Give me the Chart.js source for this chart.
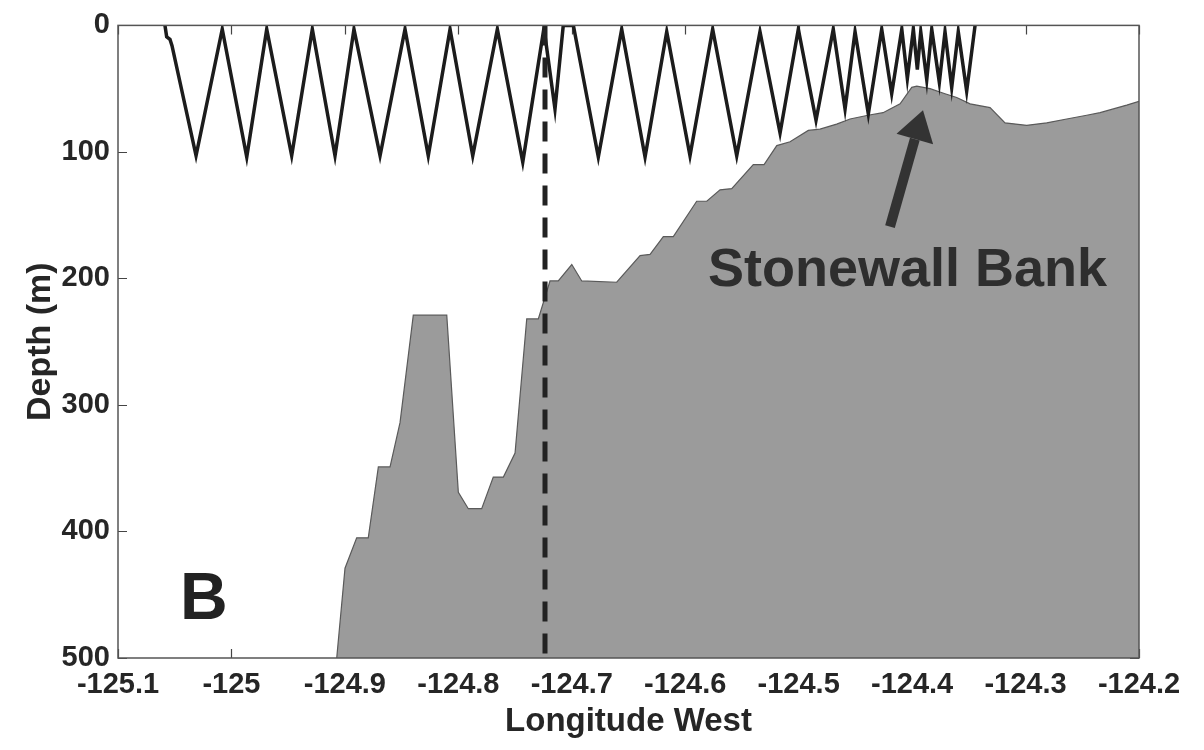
<!DOCTYPE html>
<html lang="en">
<head>
<meta charset="utf-8">
<title>Depth section across Stonewall Bank</title>
<script src="https://cdn.jsdelivr.net/npm/chart.js@4.4.1/dist/chart.umd.min.js"></script>
<style>
  html, body { margin: 0; padding: 0; background: #fff; }
</style>
</head>
<body>
<canvas id="myChart" width="1204" height="750"></canvas>
<script>
// Bottom depth along the section (longitude, metres)
const bathyLon = [-124.9072, -124.8999, -124.8896, -124.8794, -124.8705, -124.8602, -124.8514, -124.8397, -124.8102, -124.8000,
                  -124.7912, -124.7794, -124.7692, -124.7603, -124.7500, -124.7397, -124.7295, -124.7192, -124.7119, -124.7000,
                  -124.6912, -124.6604, -124.6398, -124.6310, -124.6193, -124.6105, -124.5899, -124.5810, -124.5693, -124.5590,
                  -124.5400, -124.5305, -124.5193, -124.5076, -124.4915, -124.4812, -124.4665, -124.4547, -124.4389, -124.4256,
                  -124.4106, -124.4003, -124.3959, -124.3842, -124.3710, -124.3607, -124.3489, -124.3313, -124.3181, -124.2990,
                  -124.2813, -124.2637, -124.2461, -124.2343, -124.2226, -124.2108, -124.2000];
const bathyDepth = [500, 429, 405, 405, 349, 349, 314, 229, 229, 369,
                    382, 382, 357, 357, 338, 232, 232, 202, 202, 189,
                    202, 203, 182, 181, 167, 167, 139, 139, 130, 129,
                    110, 110, 95, 92, 83, 82, 78, 74, 71, 69,
                    62, 49, 48, 50, 54, 57, 62, 65, 77, 79,
                    77, 74, 71, 69, 66, 63, 60];

// Glider dive track (yo profile)
const diveLon = [-125.0586, -125.0571, -125.0542, -125.0524, -125.0312, -125.0081, -124.9865, -124.9689, -124.9469, -124.9287,
                 -124.9087, -124.8920, -124.8690, -124.8470, -124.8265, -124.8073, -124.7873, -124.7656, -124.7432, -124.7245,
                 -124.7148, -124.7075, -124.6986, -124.6766, -124.6560, -124.6354, -124.6163, -124.5958, -124.5758, -124.5546,
                 -124.5341, -124.5164, -124.5003, -124.4847, -124.4695, -124.4591, -124.4503, -124.4386, -124.4268, -124.4180,
                 -124.4091, -124.4042, -124.3989, -124.3954, -124.3924, -124.3871, -124.3827, -124.3760, -124.3710, -124.3651,
                 -124.3593, -124.3519, -124.3445];
const diveDepth = [0, 9, 11, 16, 103, 3, 104, 3, 103, 3,
                   103, 3, 103, 3, 103, 3, 103, 3, 108, 2,
                   66, 0, 0, 104, 3, 104, 5, 103, 3, 103,
                   5, 85, 3, 75, 3, 66, 5, 70, 3, 54,
                   3, 42, 3, 35, 5, 43, 3, 45, 5, 49,
                   5, 52, 0];

// dashed marker line
const markerLon = -124.7236;
const markerDepth = [0, 500];

// axis ticks
const xTickValues = [-125.1, -125.0, -124.9, -124.8, -124.7, -124.6, -124.5, -124.4, -124.3, -124.2];
const xTickLabels = ['-125.1', '-125', '-124.9', '-124.8', '-124.7', '-124.6', '-124.5', '-124.4', '-124.3', '-124.2'];
const yTickValues = [0, 100, 200, 300, 400, 500];
const yTickLabels = ['0', '100', '200', '300', '400', '500'];

// annotations (data units)
const arrowTail = {lon: -124.4195, depth: 159};
const arrowTip = {lon: -124.3904, depth: 67};
const bankLabel = {text: 'Stonewall Bank', lon: -124.5799, depth: 206};
const panelLabel = {text: 'B', lon: -125.0453, depth: 469};

const textColor = '#262626';
const narrow = '"Liberation Sans Narrow", "Arial Narrow", "Liberation Sans", Arial, sans-serif';
const sans = '"Liberation Sans", Arial, Helvetica, sans-serif';

const toPoints = (xs, ys) => xs.map((x, i) => ({x: x, y: ys[i]}));

// frame + inward tick marks, matlab style
const frameTicks = {
    id: 'frameTicks',
    beforeDatasetsDraw(chart) {
        const {ctx, chartArea: a, scales} = chart;
        ctx.save();
        ctx.strokeStyle = '#444';
        ctx.lineWidth = 1.2;
        ctx.beginPath();
        xTickValues.forEach(v => {
            let px = Math.round(scales.x.getPixelForValue(v)) + 0.5;
            ctx.moveTo(px, a.bottom); ctx.lineTo(px, a.bottom - 9);
            ctx.moveTo(px, a.top); ctx.lineTo(px, a.top + 9);
        });
        yTickValues.forEach(v => {
            let py = Math.round(scales.y.getPixelForValue(v)) + 0.5;
            ctx.moveTo(a.left, py); ctx.lineTo(a.left + 9, py);
            ctx.moveTo(a.right, py); ctx.lineTo(a.right - 9, py);
        });
        ctx.stroke();
        ctx.restore();
    },
    afterDatasetsDraw(chart) {
        const {ctx, chartArea: a, scales} = chart;
        const x = scales.x, y = scales.y;
        ctx.save();
        ctx.strokeStyle = '#555';
        ctx.lineWidth = 1.5;
        ctx.strokeRect(a.left, a.top, a.right - a.left, a.bottom - a.top);

        // arrow to the bank
        let x0 = x.getPixelForValue(arrowTail.lon), y0 = y.getPixelForValue(arrowTail.depth);
        let x1 = x.getPixelForValue(arrowTip.lon), y1 = y.getPixelForValue(arrowTip.depth);
        let ang = Math.atan2(y1 - y0, x1 - x0);
        let headLen = 30, headHalf = 19;
        let bx = x1 - headLen * Math.cos(ang), by = y1 - headLen * Math.sin(ang);
        ctx.strokeStyle = '#333';
        ctx.fillStyle = '#333';
        ctx.lineWidth = 10;
        ctx.beginPath();
        ctx.moveTo(x0, y0);
        ctx.lineTo(bx, by);
        ctx.stroke();
        ctx.beginPath();
        ctx.moveTo(x1, y1);
        ctx.lineTo(bx + headHalf * Math.sin(ang), by - headHalf * Math.cos(ang));
        ctx.lineTo(bx - headHalf * Math.sin(ang), by + headHalf * Math.cos(ang));
        ctx.closePath();
        ctx.fill();

        // labels
        ctx.fillStyle = '#2e2e2e';
        ctx.textAlign = 'left';
        ctx.textBaseline = 'alphabetic';
        ctx.font = 'bold 54px ' + sans;
        ctx.fillText(bankLabel.text, x.getPixelForValue(bankLabel.lon), y.getPixelForValue(bankLabel.depth));
        ctx.fillStyle = '#222';
        ctx.font = 'bold 66px ' + sans;
        ctx.fillText(panelLabel.text, x.getPixelForValue(panelLabel.lon), y.getPixelForValue(panelLabel.depth));
        ctx.restore();
    }
};

const ctx = document.getElementById('myChart').getContext('2d');
const myChart = new Chart(ctx, {
    type: 'line',
    data: {
        datasets: [
            {
                label: 'Transect start',
                data: toPoints([markerLon, markerLon], markerDepth),
                borderColor: '#222',
                borderWidth: 5,
                borderDash: [20, 12],
                pointRadius: 0,
                fill: false,
                order: 1
            },
            {
                label: 'Glider',
                data: toPoints(diveLon, diveDepth),
                borderColor: '#1c1c1c',
                borderWidth: 3.5,
                pointRadius: 0,
                tension: 0,
                fill: false,
                order: 2
            },
            {
                label: 'Bottom',
                data: toPoints(bathyLon, bathyDepth),
                borderColor: '#5a5a5a',
                borderWidth: 1.2,
                backgroundColor: '#9b9b9b',
                pointRadius: 0,
                tension: 0,
                fill: {value: 500},
                order: 3
            }
        ]
    },
    options: {
        responsive: false,
        animation: false,
        layout: {padding: {top: 20, right: 65, left: 0, bottom: 0}},
        plugins: {
            legend: {display: false},
            tooltip: {enabled: false}
        },
        scales: {
            x: {
                type: 'linear',
                min: -125.1,
                max: -124.2,
                grid: {display: false, drawTicks: false},
                border: {display: false},
                afterBuildTicks: (s) => { s.ticks = xTickValues.map(v => ({value: v})); },
                afterFit: (s) => { s.height = 92; },
                ticks: {
                    autoSkip: false,
                    maxRotation: 0,
                    padding: 10,
                    color: textColor,
                    font: {family: narrow, size: 29, weight: 'bold'},
                    callback: (v) => xTickLabels[xTickValues.findIndex(t => Math.abs(t - v) < 1e-6)]
                },
                title: {
                    display: true,
                    text: 'Longitude West',
                    color: textColor,
                    font: {family: narrow, size: 33, weight: 'bold'},
                    padding: {top: 0, bottom: 8}
                }
            },
            y: {
                type: 'linear',
                reverse: true,
                min: 0,
                max: 500,
                grid: {display: false, drawTicks: false},
                border: {display: false},
                afterBuildTicks: (s) => { s.ticks = yTickValues.map(v => ({value: v})); },
                afterFit: (s) => { s.width = 118; },
                ticks: {
                    autoSkip: false,
                    padding: 8,
                    color: textColor,
                    font: {family: sans, size: 29, weight: 'bold'},
                    callback: (v) => yTickLabels[yTickValues.indexOf(v)]
                },
                title: {
                    display: true,
                    text: 'Depth (m)',
                    color: textColor,
                    font: {family: sans, size: 34, weight: 'bold'},
                    padding: {top: 20, bottom: 0}
                }
            }
        }
    },
    plugins: [frameTicks]
});
</script>
</body>
</html>
